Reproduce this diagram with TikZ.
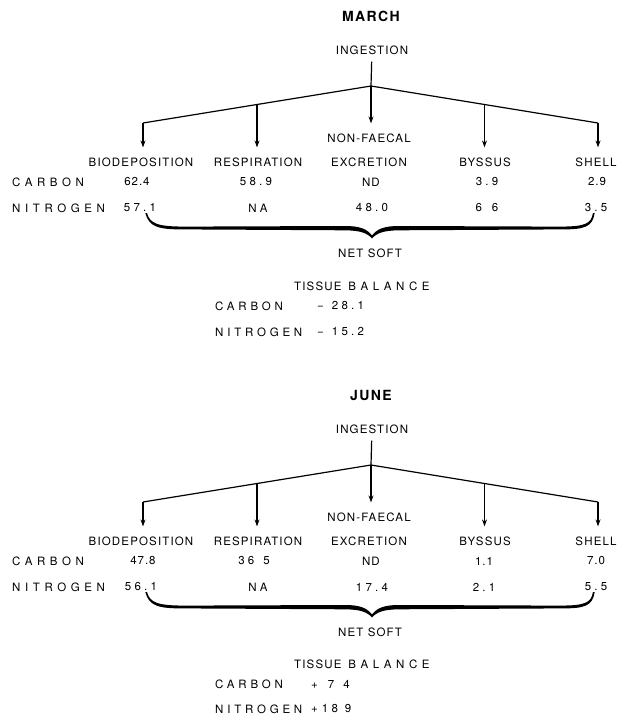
\documentclass[tikz,border=0pt]{standalone}
\usepackage{fontspec}
\setmainfont{TeX Gyre Heros}
\newfontfamily\hdfont[LetterSpace=10]{TeX Gyre Heros}
\newfontfamily\rowfont[LetterSpace=40]{TeX Gyre Heros}
\newfontfamily\blkfont[LetterSpace=33]{TeX Gyre Heros}
\newfontfamily\numfont[LetterSpace=28]{TeX Gyre Heros}
\newfontfamily\tnumfont[LetterSpace=8]{TeX Gyre Heros}
\usetikzlibrary{arrows.meta,calc}

\tikzset{
  ttl/.style={font={\hdfont\bfseries\fontsize{14}{16}\selectfont}, inner sep=1pt},
  lbl/.style={font={\hdfont\fontsize{11.5}{13}\selectfont}, inner sep=1pt},
  rowlbl/.style={font={\rowfont\fontsize{11.5}{13}\selectfont}, inner sep=0pt, anchor=west},
  blklbl/.style={font={\blkfont\fontsize{11.5}{13}\selectfont}, inner sep=0pt, anchor=west},
  val/.style={font={\numfont\fontsize{11.5}{13}\selectfont}, inner sep=1pt},
  tval/.style={font={\tnumfont\fontsize{11.5}{13}\selectfont}, inner sep=1pt},
  flow/.style={line width=1.2pt},
  arr/.style={flow, -{Stealth[length=7pt,width=5pt]}, shorten >=9pt},
  netbrace/.pic={
    \fill (147,213) .. controls (150,224) and (158,226.5) .. (185,226.6)
      -- (345,226) .. controls (360,226) and (367,229) .. (372,235.5)
      .. controls (377,229) and (384,226) .. (399,226)
      -- (560,226.6) .. controls (585,226.5) and (591,224) .. (593,213)
      -- (594.7,213) .. controls (592.5,227) and (585,229.6) .. (560,229.4)
      -- (399,230.3) .. controls (385,230.5) and (377,232.5) .. (372,238.5)
      .. controls (367,232.5) and (359,230.5) .. (345,230.3)
      -- (185,229.4) .. controls (158,229.6) and (149,227) .. (145.3,213) -- cycle;
  }
}

\begin{document}
\begin{tikzpicture}[x=1pt, y=-1pt]
\useasboundingbox (0,0) rectangle (620,716);

% ---------------- MARCH ----------------
\node[ttl] (mttl) at (371,16) {MARCH};
\node[lbl] (ming) at (372,50) {INGESTION};

% junctions of the flow lines
\coordinate (mJ) at (371,86);
\coordinate (mL) at (143,123);
\coordinate (mR) at (598,123);
\coordinate (mRb) at ($(mJ)!0.5!(mL)$);
\coordinate (mBb) at ($(mJ)!0.5!(mR)$);

% sinks
\node[lbl] (mnf)  at (369,138) {NON-FAECAL};
\node[lbl] (mbio) at (141,162) {BIODEPOSITION};
\node[lbl] (mres) at (258,162) {RESPIRATION};
\node[lbl] (mexc) at (369,162) {EXCRETION};
\node[lbl] (mbys) at (485,162) {BYSSUS};
\node[lbl] (mshl) at (596,162) {SHELL};

% flow lines
\draw[flow, shorten <=6pt] (ming) -- (mJ);
\draw[flow] (mL) -- (mJ) -- (mR);
\draw[arr] (mJ) -- (mJ |- mnf.north);
\draw[arr] (mL) -- (mL |- mbio.north);
\draw[arr] (mRb) -- (mRb |- mres.north);
\draw[arr] (mBb) -- (mBb |- mbys.north);
\draw[arr] (mR) -- (mR |- mshl.north);

% carbon and nitrogen rows
\node[rowlbl] (mcar) at (12,182) {CARBON};
\node[tval] (mc1) at (137,182) {62.4};
\node[val]  (mc2) at (256,182) {58.9};
\node[tval] (mc3) at (371,182) {ND};
\node[val]  (mc4) at (487,182) {3.9};
\node[tval] (mc5) at (597,182) {2.9};
\node[rowlbl] (mnit) at (12,208) {NITROGEN};
\node[val]  (mn1) at (140,208) {57.1};
\node[val]  (mn2) at (258,208) {NA};
\node[val]  (mn3) at (372,208) {48.0};
\node[val]  (mn4) at (487,208) {6\hspace{10pt}6};
\node[val]  (mn5) at (596,208) {3.5};

% brace and balance
\pic at (0,0) {netbrace};
\node[lbl] (mnet) at (370,253) {NET SOFT};
\node[lbl, anchor=west] (mtis) at (293,286) {TISSUE\hspace{7pt}{\rowfont BALANCE}};
\node[blklbl] (mtc) at (215,306) {CARBON};
\node[val, anchor=west] (mtcv) at (316,306) {−\hspace{8pt}28.1};
\node[blklbl] (mtn) at (215,332) {NITROGEN};
\node[val, anchor=west] (mtnv) at (316,332) {−\hspace{8pt}15.2};

% ---------------- JUNE ----------------
\node[ttl] (jttl) at (371,395) {JUNE};
\node[lbl] (jing) at (372,429) {INGESTION};

% junctions of the flow lines
\coordinate (jJ) at (371,465);
\coordinate (jL) at (143,502);
\coordinate (jR) at (598,502);
\coordinate (jRb) at ($(jJ)!0.5!(jL)$);
\coordinate (jBb) at ($(jJ)!0.5!(jR)$);

% sinks
\node[lbl] (jnf)  at (369,517) {NON-FAECAL};
\node[lbl] (jbio) at (141,541) {BIODEPOSITION};
\node[lbl] (jres) at (258,541) {RESPIRATION};
\node[lbl] (jexc) at (369,541) {EXCRETION};
\node[lbl] (jbys) at (485,541) {BYSSUS};
\node[lbl] (jshl) at (596,541) {SHELL};

% flow lines
\draw[flow, shorten <=6pt] (jing) -- (jJ);
\draw[flow] (jL) -- (jJ) -- (jR);
\draw[arr] (jJ) -- (jJ |- jnf.north);
\draw[arr] (jL) -- (jL |- jbio.north);
\draw[arr] (jRb) -- (jRb |- jres.north);
\draw[arr] (jBb) -- (jBb |- jbys.north);
\draw[arr] (jR) -- (jR |- jshl.north);

% carbon and nitrogen rows
\node[rowlbl] (jcar) at (12,561) {CARBON};
\node[tval] (jc1) at (143,561) {47.8};
\node[val]  (jc2) at (254,561) {36\hspace{9pt}5};
\node[tval] (jc3) at (371,561) {ND};
\node[tval] (jc4) at (484,561) {1.1};
\node[tval] (jc5) at (596,561) {7.0};
\node[rowlbl] (jnit) at (12,587) {NITROGEN};
\node[val]  (jn1) at (141,587) {56.1};
\node[val]  (jn2) at (258,587) {NA};
\node[val]  (jn3) at (372,587) {17.4};
\node[val]  (jn4) at (484,587) {2.1};
\node[val]  (jn5) at (596,587) {5.5};

% brace and balance
\pic at (0,379) {netbrace};
\node[lbl] (jnet) at (370,632) {NET SOFT};
\node[lbl, anchor=west] (jtis) at (293,664) {TISSUE\hspace{7pt}{\rowfont BALANCE}};
\node[blklbl] (jtc) at (215,684) {CARBON};
\node[val, anchor=west] (jtcv) at (310,684) {+\hspace{10pt}7\hspace{9pt}4};
\node[blklbl] (jtn) at (215,709) {NITROGEN};
\node[val, anchor=west] (jtnv) at (310,709) {+\hspace{4pt}18\hspace{7pt}9};
\end{tikzpicture}
\end{document}
